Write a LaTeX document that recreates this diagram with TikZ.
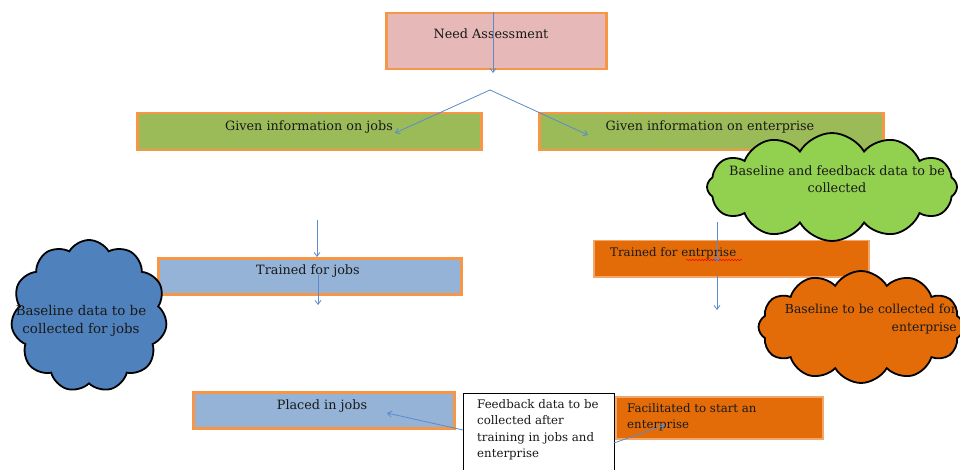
\documentclass[tikz,border=0pt]{standalone}
\usepackage{fontspec}
\setmainfont{DejaVu Serif}
\usetikzlibrary{shapes.symbols,arrows.meta,decorations.pathmorphing}
\definecolor{obord}{HTML}{F79646}
\definecolor{pinkf}{HTML}{E6B9B8}
\definecolor{greenbox}{HTML}{9BBB59}
\definecolor{greencloud}{HTML}{92D050}
\definecolor{bluebox}{HTML}{95B3D7}
\definecolor{bluecloud}{HTML}{4F81BD}
\definecolor{orangef}{HTML}{E36C09}
\definecolor{oglow}{HTML}{F2A66A}
\definecolor{arrblue}{HTML}{5B8BCB}
\begin{document}
\begin{tikzpicture}[x=1pt,y=-1pt,
  box/.style={draw=obord, line width=2.5pt, anchor=north west, inner sep=0pt},
  obox/.style={draw=oglow, line width=1.5pt, fill=orangef, anchor=north west, inner sep=0pt},
  txt/.style={font=\fontsize{12.8}{17}\selectfont, inner sep=0pt, text=black!90},
  txtm/.style={font=\fontsize{11.8}{16.5}\selectfont, inner sep=0pt, text=black!90},
  txtb/.style={font=\fontsize{13.4}{18}\selectfont, inner sep=0pt, text=black!90},
  arr/.style={draw=arrblue, line width=0.8pt, -{Straight Barb[length=4pt,width=6pt]}},
  cloudy/.style={cloud, cloud puffs=12, cloud puff arc=120, draw=black, line width=1.8pt, cloud ignores aspect, inner sep=0pt}]
\useasboundingbox[fill=white] (0,0) rectangle (960,470);

% boxes
\node[box, fill=pinkf, minimum width=220pt, minimum height=56pt] (need) at (385,12) {};
\node[box, fill=greenbox, minimum width=344pt, minimum height=37pt] (gjobs) at (136,112) {};
\node[box, fill=greenbox, minimum width=344pt, minimum height=37pt] (gent) at (538,112) {};
\node[box, fill=bluebox, minimum width=303pt, minimum height=36pt] (tjobs) at (157,257) {};
\node[obox, minimum width=275pt, minimum height=36pt] (tent) at (593,240) {};
\node[box, fill=bluebox, minimum width=261pt, minimum height=36pt] (pjobs) at (192,391) {};
\node[obox, minimum width=207pt, minimum height=42pt] (fac) at (615,396) {};
\node[draw=black, line width=0.8pt, fill=white, anchor=north west, minimum width=151pt, minimum height=80pt, inner sep=0pt] (fb) at (463,393) {};

% clouds
\node[cloudy, fill=greencloud, minimum width=250pt, minimum height=108pt] (gcloud) at (832,187) {};
\node[cloudy, fill=bluecloud, cloud puffs=11, minimum width=156pt, minimum height=152pt] (bcloud) at (89,316) {};
\node[cloudy, fill=orangef, minimum width=205pt, minimum height=112pt] (ocloud) at (861,327) {};

% texts
\node[txt] (needt) at (491,34) {Need Assessment};
\node[txt] (gjobst) at (309,127) {Given information on jobs};
\node[txt] (gentt) at (710,127) {Given information on enterprise};
\node[txt, align=center, anchor=north] (gcloudt) at (837,166) {Baseline and feedback data to be\\collected};
\node[txt] (tjobst) at (308,271) {Trained for jobs};
\node[txtb, align=center, anchor=north] (bcloudt) at (81,305) {Baseline data to be\\collected for jobs};
\node[txtm, anchor=west] (tentt) at (610,253) {Trained for entrprise};
\node[txtm, font=\fontsize{12.4}{18}\selectfont, align=right, anchor=north east] (ocloudt) at (957,304) {Baseline to be collected for\\enterprise};
\node[txt] (pjobst) at (322,406) {Placed in jobs};
\node[txtm, align=left, anchor=north west] (fbt) at (477,399) {Feedback data to be\\collected after\\training in jobs and\\enterprise};
\node[txtm, align=left, anchor=north west] (fact) at (627,403) {Facilitated to start an\\enterprise};

% spell-check squiggle
\draw[red, line width=0.5pt, decorate, decoration={snake, amplitude=0.8pt, segment length=3pt}] (686,260) -- (742,260);

% connectors
\coordinate (a1) at (493,12);
\coordinate (a2) at (493,73);
\coordinate (apex) at (490,90);
\coordinate (gj) at (395,133);
\coordinate (ge) at (588,135);
\coordinate (b1) at (317,220);
\coordinate (b2) at (317,257);
\coordinate (c1) at (318,275);
\coordinate (c2) at (318,305);
\coordinate (d1) at (717,222);
\coordinate (d2) at (717,262);
\coordinate (e1) at (717,275);
\coordinate (e2) at (717,310);
\coordinate (f1) at (463,430);
\coordinate (f2) at (387,413);
\coordinate (g1) at (614,443);
\coordinate (g2) at (665,425);
\draw[arr] (a1) -- (a2);
\draw[arr] (apex) -- (gj);
\draw[arr] (apex) -- (ge);
\draw[arr] (b1) -- (b2);
\draw[arr] (c1) -- (c2);
\draw[arr] (d1) -- (d2);
\draw[arr] (e1) -- (e2);
\draw[arr] (f1) -- (f2);
\draw[arr] (g1) -- (g2);
\end{tikzpicture}
\end{document}
